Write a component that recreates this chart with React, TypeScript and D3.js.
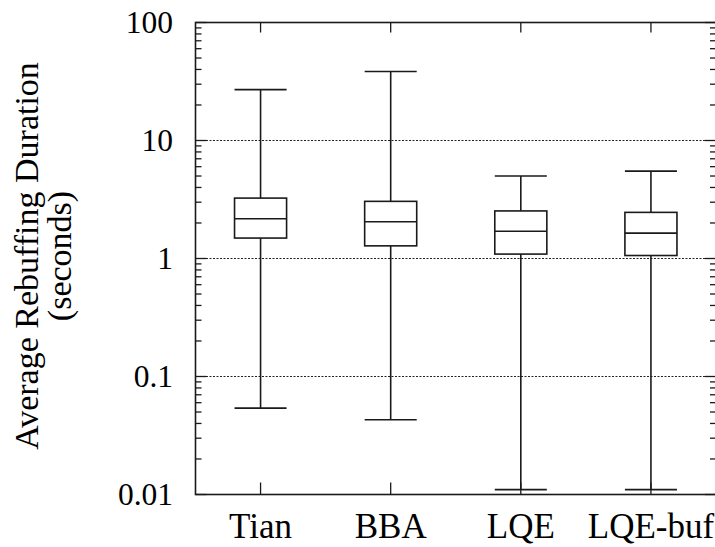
import * as d3 from "d3";
import { useEffect, useRef } from "react";

const categories = ["Tian", "BBA", "LQE", "LQE-buf"];
const whiskerHigh = [27, 38.4, 5.0, 5.5];
const q3 = [3.25, 3.05, 2.53, 2.46];
const median = [2.17, 2.05, 1.7, 1.64];
const q1 = [1.49, 1.28, 1.09, 1.06];
const whiskerLow = [0.054, 0.043, 0.011, 0.011];

const yTicks = [0.01, 0.1, 1, 10, 100];
const yTickLabels = ["0.01", "0.1", "1", "10", "100"];
const gridValues = [0.1, 1, 10];

const W = 715;
const H = 547;

export default function App() {
  const ref = useRef<SVGSVGElement | null>(null);

  useEffect(() => {
    const el = ref.current;
    if (!el) return;
    const svg = d3.select<SVGSVGElement, unknown>(el);
    svg.selectAll("*").remove();

    const margin = { top: 22.5, right: -1, bottom: 52.5, left: 195.5 };
    const font = "'Liberation Serif', 'Times New Roman', serif";
    const ink = "#1a1a1a";

    const x = d3
      .scaleBand<string>()
      .domain(categories)
      .range([margin.left, W - margin.right])
      .paddingInner(0)
      .paddingOuter(0);

    const y = d3
      .scaleLog()
      .domain([0.01, 100])
      .range([H - margin.bottom, margin.top]);

    const x0 = margin.left;
    const x1 = W - margin.right;
    const y0 = H - margin.bottom;
    const y1 = margin.top;

    // dotted grid
    svg
      .append("g")
      .selectAll("line")
      .data(gridValues)
      .enter()
      .append("line")
      .attr("x1", x0)
      .attr("x2", x1)
      .attr("y1", (d) => y(d))
      .attr("y2", (d) => y(d))
      .attr("stroke", "#222")
      .attr("stroke-width", 1)
      .attr("stroke-dasharray", "2,1.5");

    // minor + major ticks on both sides
    const minors: number[] = [];
    for (let e = -2; e < 2; e++) {
      for (let m = 2; m <= 9; m++) minors.push(m * Math.pow(10, e));
    }
    const tickG = svg.append("g").attr("stroke", ink).attr("stroke-width", 1.3);
    for (const v of minors) {
      tickG.append("line").attr("x1", x0).attr("x2", x0 + 6).attr("y1", y(v)).attr("y2", y(v));
      tickG.append("line").attr("x1", x1).attr("x2", x1 - 6).attr("y1", y(v)).attr("y2", y(v));
    }
    for (const v of yTicks) {
      tickG.append("line").attr("x1", x0).attr("x2", x0 + 11).attr("y1", y(v)).attr("y2", y(v));
      tickG.append("line").attr("x1", x1).attr("x2", x1 - 11).attr("y1", y(v)).attr("y2", y(v));
    }
    for (const c of categories) {
      const cx = (x(c) ?? 0) + x.bandwidth() / 2;
      tickG.append("line").attr("x1", cx).attr("x2", cx).attr("y1", y0).attr("y2", y0 - 12);
      tickG.append("line").attr("x1", cx).attr("x2", cx).attr("y1", y1).attr("y2", y1 + 10);
    }

    // y tick labels
    svg
      .append("g")
      .selectAll("text")
      .data(yTicks)
      .enter()
      .append("text")
      .attr("x", 173)
      .attr("y", (d) => y(d))
      .attr("dy", "0.34em")
      .attr("text-anchor", "end")
      .attr("font-family", font)
      .attr("font-size", 31.5)
      .attr("fill", "#000")
      .text((_, i) => yTickLabels[i]);

    // x labels
    svg
      .append("g")
      .selectAll("text")
      .data(categories)
      .enter()
      .append("text")
      .attr("x", (d) => (x(d) ?? 0) + x.bandwidth() / 2)
      .attr("y", 538)
      .attr("text-anchor", "middle")
      .attr("font-family", font)
      .attr("font-size", 35)
      .attr("fill", "#000")
      .text((d) => d);

    // boxes
    const boxW = x.bandwidth() * 0.4;
    const boxes = svg
      .append("g")
      .attr("stroke", ink)
      .attr("stroke-width", 1.6)
      .attr("fill", "none");
    categories.forEach((c, i) => {
      const cx = (x(c) ?? 0) + x.bandwidth() / 2;
      const l = cx - boxW / 2;
      const r = cx + boxW / 2;
      boxes.append("line").attr("x1", cx).attr("x2", cx).attr("y1", y(whiskerHigh[i])).attr("y2", y(q3[i]));
      boxes.append("line").attr("x1", cx).attr("x2", cx).attr("y1", y(q1[i])).attr("y2", y(whiskerLow[i]));
      boxes.append("line").attr("x1", l).attr("x2", r).attr("y1", y(whiskerHigh[i])).attr("y2", y(whiskerHigh[i]));
      boxes.append("line").attr("x1", l).attr("x2", r).attr("y1", y(whiskerLow[i])).attr("y2", y(whiskerLow[i]));
      boxes
        .append("rect")
        .attr("x", l)
        .attr("y", y(q3[i]))
        .attr("width", boxW)
        .attr("height", y(q1[i]) - y(q3[i]));
      boxes.append("line").attr("x1", l).attr("x2", r).attr("y1", y(median[i])).attr("y2", y(median[i]));
    });

    // frame
    svg
      .append("rect")
      .attr("x", x0)
      .attr("y", y1)
      .attr("width", x1 - x0)
      .attr("height", y0 - y1)
      .attr("fill", "none")
      .attr("stroke", ink)
      .attr("stroke-width", 1.6);

    // y title
    const title = svg
      .append("text")
      .attr("transform", `translate(38,${256}) rotate(-90)`)
      .attr("text-anchor", "middle")
      .attr("font-family", font)
      .attr("font-size", 34)
      .attr("fill", "#000");
    title.append("tspan").attr("x", 0).attr("dy", 0).text("Average Rebuffing Duration");
    title.append("tspan").attr("x", 0).attr("dy", 33).text("(seconds)");
  }, []);

  return (
    <svg
      ref={ref}
      width={W}
      height={H}
      style={{ position: "absolute", left: 0, top: 0, background: "#fff", display: "block" }}
    />
  );
}
